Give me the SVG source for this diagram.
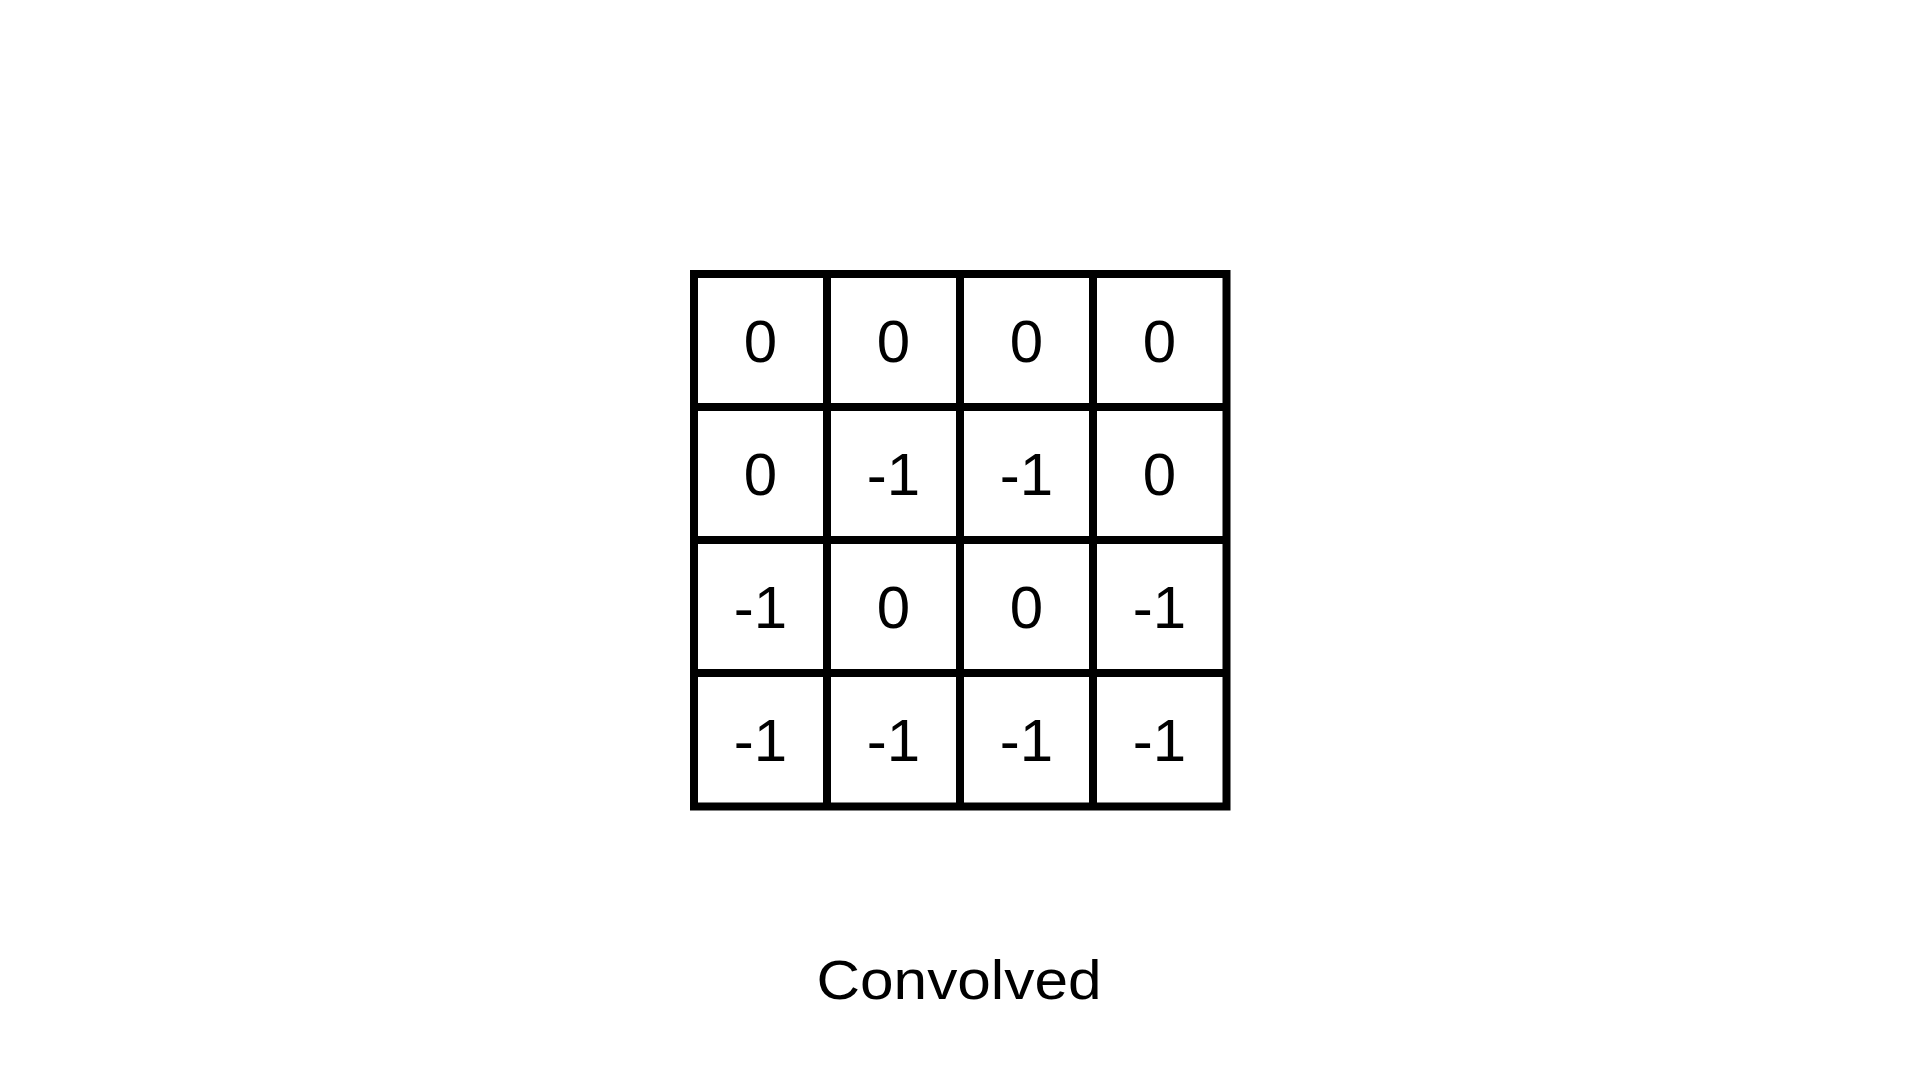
<svg xmlns="http://www.w3.org/2000/svg" width="1920" height="1080" viewBox="0 0 1920 1080">
<style>
.grid{fill:none;stroke:#000;stroke-width:8;stroke-linecap:square}
.v{font-family:"Liberation Sans",Arial,sans-serif;font-size:60px;fill:#000;text-anchor:middle}
.t{font-family:"Liberation Sans",Arial,sans-serif;font-size:56px;fill:#000;text-anchor:middle}
</style>
<rect width="1920" height="1080" fill="#fff"/>
<g id="grid">
<path class="grid" d="M694,274H1226.5V806.5H694Z M827,274V806.5 M960,274V806.5 M1093,274V806.5 M694,407H1226.5 M694,540H1226.5 M694,673H1226.5"/>
</g>
<g id="r0">
<text class="v" x="760.5" y="362">0</text>
<text class="v" x="893.5" y="362">0</text>
<text class="v" x="1026.5" y="362">0</text>
<text class="v" x="1159.5" y="362">0</text>
</g>
<g id="r1">
<text class="v" x="760.5" y="495">0</text>
<text class="v" x="893.5" y="495">-1</text>
<text class="v" x="1026.5" y="495">-1</text>
<text class="v" x="1159.5" y="495">0</text>
</g>
<g id="r2">
<text class="v" x="760.5" y="628">-1</text>
<text class="v" x="893.5" y="628">0</text>
<text class="v" x="1026.5" y="628">0</text>
<text class="v" x="1159.5" y="628">-1</text>
</g>
<g id="r3">
<text class="v" x="760.5" y="761">-1</text>
<text class="v" x="893.5" y="761">-1</text>
<text class="v" x="1026.5" y="761">-1</text>
<text class="v" x="1159.5" y="761">-1</text>
</g>
<g id="label">
<text class="t" x="959" y="999" textLength="285" lengthAdjust="spacingAndGlyphs">Convolved</text>
</g>
</svg>
